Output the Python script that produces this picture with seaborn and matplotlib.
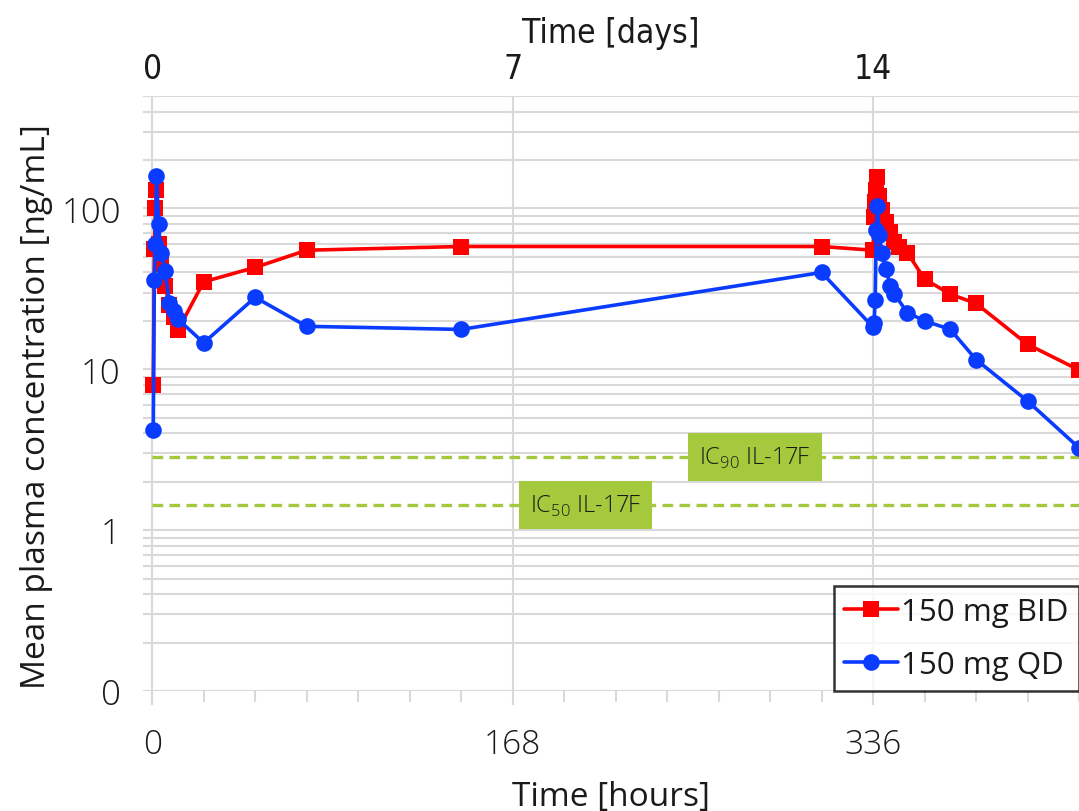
import matplotlib
matplotlib.use("Agg")
from matplotlib import pyplot as plt
from matplotlib.ticker import FixedLocator, FixedFormatter, NullFormatter
import pandas as pd
import seaborn as sns
import numpy as np

# time in hours, mean plasma concentration in ng/mL
bid_hours = [0.5, 1, 1.5, 2, 3, 4, 6, 8, 10, 12, 24, 48, 72, 144, 312,
             336, 336.5, 337, 337.5, 338, 339, 340, 342, 344, 346, 348,
             352, 360, 372, 384, 408, 432]
bid_conc = [8.0, 56, 100, 130, 60, 45, 33, 25, 21, 17.5, 35, 43, 55, 58, 58,
            55, 88, 110, 130, 158, 120, 98, 82, 71, 62, 58,
            53, 36.4, 29.3, 25.7, 14.3, 9.9]

qd_hours = [0.5, 1, 1.5, 2, 3, 4, 6, 8, 10, 12, 24, 48, 72, 144, 312,
            336, 336.5, 337, 337.5, 338, 339, 340, 342, 344, 346,
            352, 360, 372, 384, 408, 432]
qd_conc = [4.2, 36, 60, 160, 80, 53, 41, 26, 23, 20.5, 14.6, 28, 18.5, 17.7, 40,
           18.3, 19.5, 27, 73, 103, 68, 53, 42, 33, 29.3,
           22.5, 20, 17.7, 11.5, 6.35, 3.25]

series_names = ["150 mg BID", "150 mg QD"]
ic_values = [2.85, 1.43]
ic_labels = [r"IC$_{\mathrm{90}}$ IL-17F", r"IC$_{\mathrm{50}}$ IL-17F"]
ic_label_hours = [281, 202]

hour_ticks = [0, 168, 336]
day_ticks = [0, 7, 14]
y_ticks = [0.1, 1, 10, 100]
y_tick_labels = ["0", "1", "10", "100"]

df = pd.concat([
    pd.DataFrame({"hours": bid_hours, "conc": bid_conc, "dose": series_names[0]}),
    pd.DataFrame({"hours": qd_hours, "conc": qd_conc, "dose": series_names[1]}),
])

sns.set_theme(style="white")
plt.rcParams["font.family"] = ["Open Sans", "DejaVu Sans"]
plt.rcParams["font.weight"] = "light"
plt.rcParams["mathtext.fontset"] = "custom"
plt.rcParams["mathtext.rm"] = "Open Sans"
plt.rcParams["text.color"] = "#1a1a1a"

grid_col = "#d9d9d9"
green = "#a5c93c"
text_col = "#1a1a1a"
fs = 24
narrow = dict(family=["DejaVu Sans"], stretch="condensed", weight="normal")

fig = plt.figure(figsize=(10.79, 8.12), dpi=100)
ax = fig.add_axes([0.1325, 0.1478, 0.8675, 0.7327])

sns.lineplot(data=df, x="hours", y="conc", hue="dose", style="dose",
             hue_order=series_names, style_order=series_names,
             palette={"150 mg BID": "#ff0000", "150 mg QD": "#0a3cff"},
             markers={"150 mg BID": "s", "150 mg QD": "o"}, dashes=False,
             estimator=None, linewidth=2.6, markersize=12,
             markeredgewidth=0, legend=False, ax=ax, zorder=5, clip_on=False)

# IC lines with labels
for val, lab, xh in zip(ic_values, ic_labels, ic_label_hours):
    ax.hlines(val, 0, 432, colors=green, linestyles=(0, (3.2, 1.9)),
              linewidth=2.4, zorder=3)
    ax.text(xh, val, lab, fontsize=17, ha="center", va="center", zorder=4,
            color=text_col,
            bbox=dict(facecolor=green, edgecolor="none", pad=8))

ax.set_yscale("log")
ax.set_ylim(0.1, 500)
ax.set_xlim(-4.3, 432)

ax.yaxis.set_major_locator(FixedLocator(y_ticks))
ax.yaxis.set_major_formatter(FixedFormatter(y_tick_labels))
minor_y = [m * 10.0 ** e for e in range(-1, 3) for m in range(2, 10)]
ax.yaxis.set_minor_locator(FixedLocator(minor_y))
ax.yaxis.set_minor_formatter(NullFormatter())

ax.xaxis.set_major_locator(FixedLocator(hour_ticks))
ax.xaxis.set_minor_locator(FixedLocator(list(range(0, 433, 24))))

ax.grid(which="both", axis="y", color=grid_col, linewidth=1.5)
ax.grid(which="major", axis="x", color=grid_col, linewidth=1.5)
ax.set_axisbelow(True)
for s in ax.spines.values():
    s.set_visible(False)

ax.tick_params(axis="y", which="both", length=0, pad=16, labelsize=25,
               labelcolor=text_col)
ax.tick_params(axis="x", which="major", direction="out", length=10, width=1.5,
               color=grid_col, pad=16, labelsize=fs, labelcolor=text_col,
               bottom=True)
ax.tick_params(axis="x", which="minor", direction="out", length=8, width=1.5,
               color=grid_col, bottom=True)

ax.set_xlabel("Time [hours]", fontsize=fs, color=text_col, labelpad=14)
ax.set_ylabel("Mean plasma concentration [ng/mL]", fontsize=fs,
              color=text_col)
ax.yaxis.set_label_coords(-0.096, 0.48)

# second x axis in days
sec = ax.secondary_xaxis("top", functions=(lambda h: h / 24, lambda d: d * 24))
sec.set_xticks(day_ticks)
sec.tick_params(length=0, pad=8, labelsize=fs, labelcolor=text_col)
for lbl in sec.get_xticklabels():
    lbl.set(**narrow)
sec.set_xlabel("Time [days]", fontsize=fs, color=text_col, labelpad=7,
               **narrow)
sec.spines["top"].set_visible(False)

leg = ax.legend(handles=ax.lines[:2], labels=series_names, loc="lower right",
                prop=dict(size=22.5, weight="normal"), frameon=True,
                fancybox=False, borderaxespad=0, handlelength=1.7,
                handletextpad=0.1, labelspacing=0.75, borderpad=0.35)
leg.get_frame().set_edgecolor("black")
leg.get_frame().set_linewidth(1.8)
leg.set_zorder(10)

fig.savefig("out.png", dpi=100)
